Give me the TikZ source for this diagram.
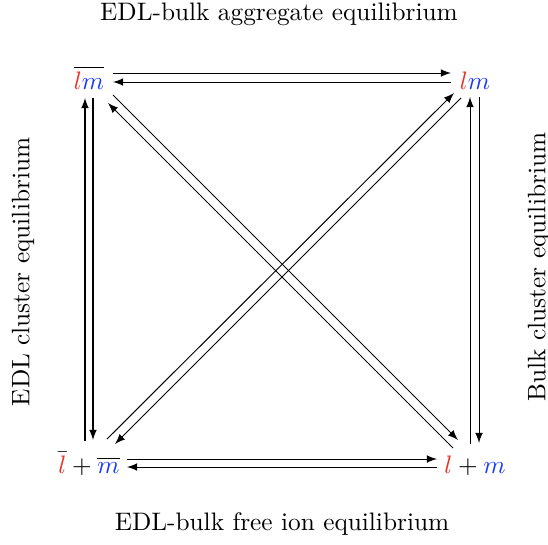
\documentclass[tikz,border=0pt]{standalone}
\usetikzlibrary{calc}
\definecolor{lred}{RGB}{235,50,38}
\definecolor{lblue}{RGB}{28,58,250}
\begin{document}
\begin{tikzpicture}[x=0.3953pt,y=-0.3953pt,
  species/.style={anchor=base,inner sep=0pt},
  lbl/.style={inner sep=0pt},
  rx/.style={-latex,line width=0.4pt}]
\useasboundingbox (0,0) rectangle (548,544);
\node[species] (tl) at (89,89) {$\overline{{\color{lred}l}{\color{lblue}m}}$};
\node[species] (tr) at (475,89) {${\color{lred}l}{\color{lblue}m}$};
\node[species] (bl) at (89,473) {$\bar{{\color{lred}l}}+\overline{{\color{lblue}m}}$};
\node[species] (br) at (475,473) {${\color{lred}l}+{\color{lblue}m}$};
\node[lbl] (tlab) at (279,14) {EDL-bulk aggregate equilibrium};
\node[lbl] (blab) at (282,524) {EDL-bulk free ion equilibrium};
\node[lbl,rotate=90] (llab) at (23,272) {EDL cluster equilibrium};
\node[lbl,rotate=90] (rlab) at (539,267) {Bulk cluster equilibrium};
% top
\draw[rx] ($(tl.base)+(24,-16)$) -- ($(tr.base)+(-24,-16)$);
\draw[rx] ($(tr.base)+(-24,-7)$) -- ($(tl.base)+(24,-7)$);
% bottom
\draw[rx] ($(bl.base)+(38,-14)$) -- ($(br.base)+(-38,-14)$);
\draw[rx] ($(br.base)+(-38,-6)$) -- ($(bl.base)+(38,-6)$);
% left
\draw[rx] ($(bl.base)+(-4,-32)$) -- ($(tl.base)+(-4,9)$);
\draw[rx] ($(tl.base)+(4,9)$) -- ($(bl.base)+(4,-33)$);
% right
\draw[rx] ($(br.base)+(-5,-29)$) -- ($(tr.base)+(-5,8)$);
\draw[rx] ($(tr.base)+(4,8)$) -- ($(br.base)+(4,-30)$);
% diagonals
\draw[rx] ($(tl.base)+(24,6)$) -- ($(br.base)+(-17,-33)$);
\draw[rx] ($(br.base)+(-22,-25)$) -- ($(tl.base)+(19,14)$);
\draw[rx] ($(bl.base)+(18,-34)$) -- ($(tr.base)+(-21,4)$);
\draw[rx] ($(tr.base)+(-14,9)$) -- ($(bl.base)+(26,-29)$);
\end{tikzpicture}
\end{document}
